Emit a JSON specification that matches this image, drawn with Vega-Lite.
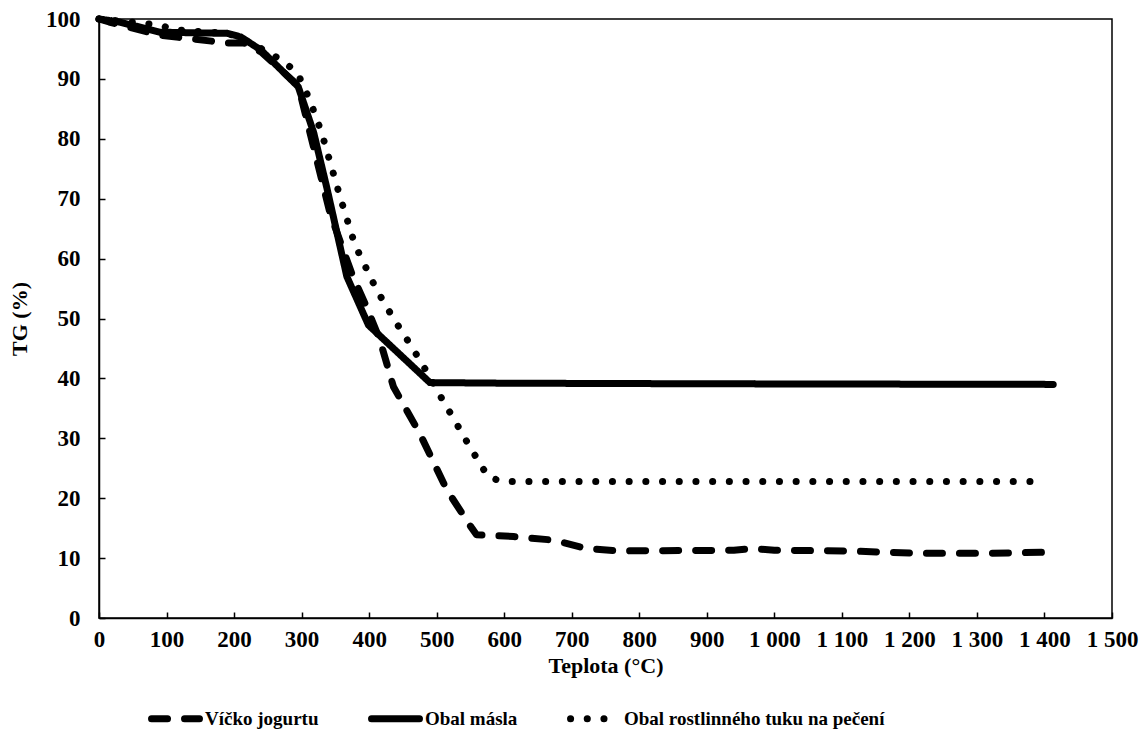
{
  "$schema": "https://vega.github.io/schema/vega-lite/v6.json",
  "width": 1013,
  "height": 599,
  "autosize": "none",
  "padding": {"left": 99, "top": 19, "right": 30, "bottom": 118},
  "background": "white",
  "config": {
    "font": "Liberation Serif",
    "view": {"stroke": "black", "strokeWidth": 1.5},
    "axis": {
      "grid": false,
      "domainColor": "black",
      "domainWidth": 1.5,
      "tickColor": "black",
      "tickWidth": 1.5,
      "labelFont": "Liberation Serif",
      "labelFontWeight": "bold",
      "labelFontSize": 23,
      "labelColor": "black",
      "titleFont": "Liberation Serif",
      "titleFontWeight": "bold",
      "titleFontSize": 22,
      "titleColor": "black"
    },
    "legend": {
      "labelFont": "Liberation Serif",
      "labelFontWeight": "bold",
      "labelFontSize": 19,
      "labelColor": "black",
      "labelLimit": 500
    }
  },
  "data": {
    "values": [
      {"s": "Víčko jogurtu", "t": 0, "tg": 100},
      {"s": "Víčko jogurtu", "t": 15, "tg": 99.5},
      {"s": "Víčko jogurtu", "t": 90, "tg": 97.3},
      {"s": "Víčko jogurtu", "t": 190, "tg": 96},
      {"s": "Víčko jogurtu", "t": 215, "tg": 96},
      {"s": "Víčko jogurtu", "t": 240, "tg": 94.5},
      {"s": "Víčko jogurtu", "t": 295, "tg": 88.9},
      {"s": "Víčko jogurtu", "t": 342, "tg": 67.6},
      {"s": "Víčko jogurtu", "t": 376, "tg": 57},
      {"s": "Víčko jogurtu", "t": 396, "tg": 52},
      {"s": "Víčko jogurtu", "t": 416, "tg": 46.4},
      {"s": "Víčko jogurtu", "t": 436, "tg": 38.6},
      {"s": "Víčko jogurtu", "t": 475, "tg": 30.8},
      {"s": "Víčko jogurtu", "t": 515, "tg": 21.4},
      {"s": "Víčko jogurtu", "t": 549, "tg": 15.5},
      {"s": "Víčko jogurtu", "t": 559, "tg": 13.9},
      {"s": "Víčko jogurtu", "t": 614, "tg": 13.6},
      {"s": "Víčko jogurtu", "t": 673, "tg": 13},
      {"s": "Víčko jogurtu", "t": 722, "tg": 11.6},
      {"s": "Víčko jogurtu", "t": 771, "tg": 11.2},
      {"s": "Víčko jogurtu", "t": 940, "tg": 11.3},
      {"s": "Víčko jogurtu", "t": 969, "tg": 11.6},
      {"s": "Víčko jogurtu", "t": 1000, "tg": 11.3},
      {"s": "Víčko jogurtu", "t": 1107, "tg": 11.2},
      {"s": "Víčko jogurtu", "t": 1216, "tg": 10.8},
      {"s": "Víčko jogurtu", "t": 1314, "tg": 10.8},
      {"s": "Víčko jogurtu", "t": 1413, "tg": 11},
      {"s": "Obal másla", "t": 0, "tg": 100},
      {"s": "Obal másla", "t": 30, "tg": 99.5},
      {"s": "Obal másla", "t": 90, "tg": 97.8},
      {"s": "Obal másla", "t": 190, "tg": 97.6},
      {"s": "Obal másla", "t": 210, "tg": 97},
      {"s": "Obal másla", "t": 240, "tg": 94.8},
      {"s": "Obal másla", "t": 295, "tg": 88.7},
      {"s": "Obal másla", "t": 318, "tg": 81},
      {"s": "Obal másla", "t": 337, "tg": 72},
      {"s": "Obal másla", "t": 367, "tg": 57},
      {"s": "Obal másla", "t": 399, "tg": 48.9},
      {"s": "Obal másla", "t": 490, "tg": 39.3},
      {"s": "Obal másla", "t": 600, "tg": 39.2},
      {"s": "Obal másla", "t": 900, "tg": 39.1},
      {"s": "Obal másla", "t": 1413, "tg": 39},
      {"s": "Obal rostlinného tuku na pečení", "t": 0, "tg": 100},
      {"s": "Obal rostlinného tuku na pečení", "t": 90, "tg": 99},
      {"s": "Obal rostlinného tuku na pečení", "t": 112, "tg": 98.2},
      {"s": "Obal rostlinného tuku na pečení", "t": 190, "tg": 97.6},
      {"s": "Obal rostlinného tuku na pečení", "t": 211, "tg": 96.8},
      {"s": "Obal rostlinného tuku na pečení", "t": 258, "tg": 94},
      {"s": "Obal rostlinného tuku na pečení", "t": 293, "tg": 91.2},
      {"s": "Obal rostlinného tuku na pečení", "t": 312, "tg": 86.5},
      {"s": "Obal rostlinného tuku na pečení", "t": 330, "tg": 80.9},
      {"s": "Obal rostlinného tuku na pečení", "t": 357, "tg": 70.3},
      {"s": "Obal rostlinného tuku na pečení", "t": 379, "tg": 62.3},
      {"s": "Obal rostlinného tuku na pečení", "t": 411, "tg": 54.8},
      {"s": "Obal rostlinného tuku na pečení", "t": 436, "tg": 50},
      {"s": "Obal rostlinného tuku na pečení", "t": 463, "tg": 45.3},
      {"s": "Obal rostlinného tuku na pečení", "t": 488, "tg": 40.6},
      {"s": "Obal rostlinného tuku na pečení", "t": 500, "tg": 38.1},
      {"s": "Obal rostlinného tuku na pečení", "t": 525, "tg": 33.3},
      {"s": "Obal rostlinného tuku na pečení", "t": 549, "tg": 28.6},
      {"s": "Obal rostlinného tuku na pečení", "t": 576, "tg": 23.6},
      {"s": "Obal rostlinného tuku na pečení", "t": 596, "tg": 22.8},
      {"s": "Obal rostlinného tuku na pečení", "t": 1000, "tg": 22.8},
      {"s": "Obal rostlinného tuku na pečení", "t": 1390, "tg": 22.8}
    ]
  },
  "mark": {"type": "line", "color": "black", "strokeWidth": 7, "strokeCap": "round", "strokeJoin": "round"},
  "encoding": {
    "x": {
      "field": "t", "type": "quantitative",
      "scale": {"domain": [0, 1500], "nice": false, "zero": true},
      "axis": {
        "title": "Teplota (°C)",
        "values": [0, 100, 200, 300, 400, 500, 600, 700, 800, 900, 1000, 1100, 1200, 1300, 1400, 1500],
        "labelExpr": "replace(format(datum.value, ','), ',', ' ')",
        "tickSize": -6,
        "labelPadding": 16,
        "titlePadding": 4,
        "labelFlush": false
      }
    },
    "y": {
      "field": "tg", "type": "quantitative",
      "scale": {"domain": [0, 100], "nice": false},
      "axis": {
        "title": "TG (%)",
        "values": [0, 10, 20, 30, 40, 50, 60, 70, 80, 90, 100],
        "tickSize": -6,
        "labelPadding": 25,
        "titlePadding": 14,
        "labelFlush": false
      }
    },
    "strokeDash": {
      "field": "s", "type": "nominal",
      "scale": {
        "domain": ["Víčko jogurtu", "Obal másla", "Obal rostlinného tuku na pečení"],
        "range": [[16, 17], [1, 0], [0.1, 16.6]]
      },
      "legend": {
        "title": null,
        "orient": "none",
        "direction": "horizontal",
        "legendX": 49,
        "legendY": 672,
        "symbolType": "stroke",
        "symbolStrokeWidth": 7,
        "symbolStrokeColor": "black",
        "symbolSize": 2300,
        "labelOffset": 2,
        "columnPadding": 38,
        "encode": {"symbols": {"update": {"strokeCap": {"value": "round"}}}}
      }
    }
  }
}
